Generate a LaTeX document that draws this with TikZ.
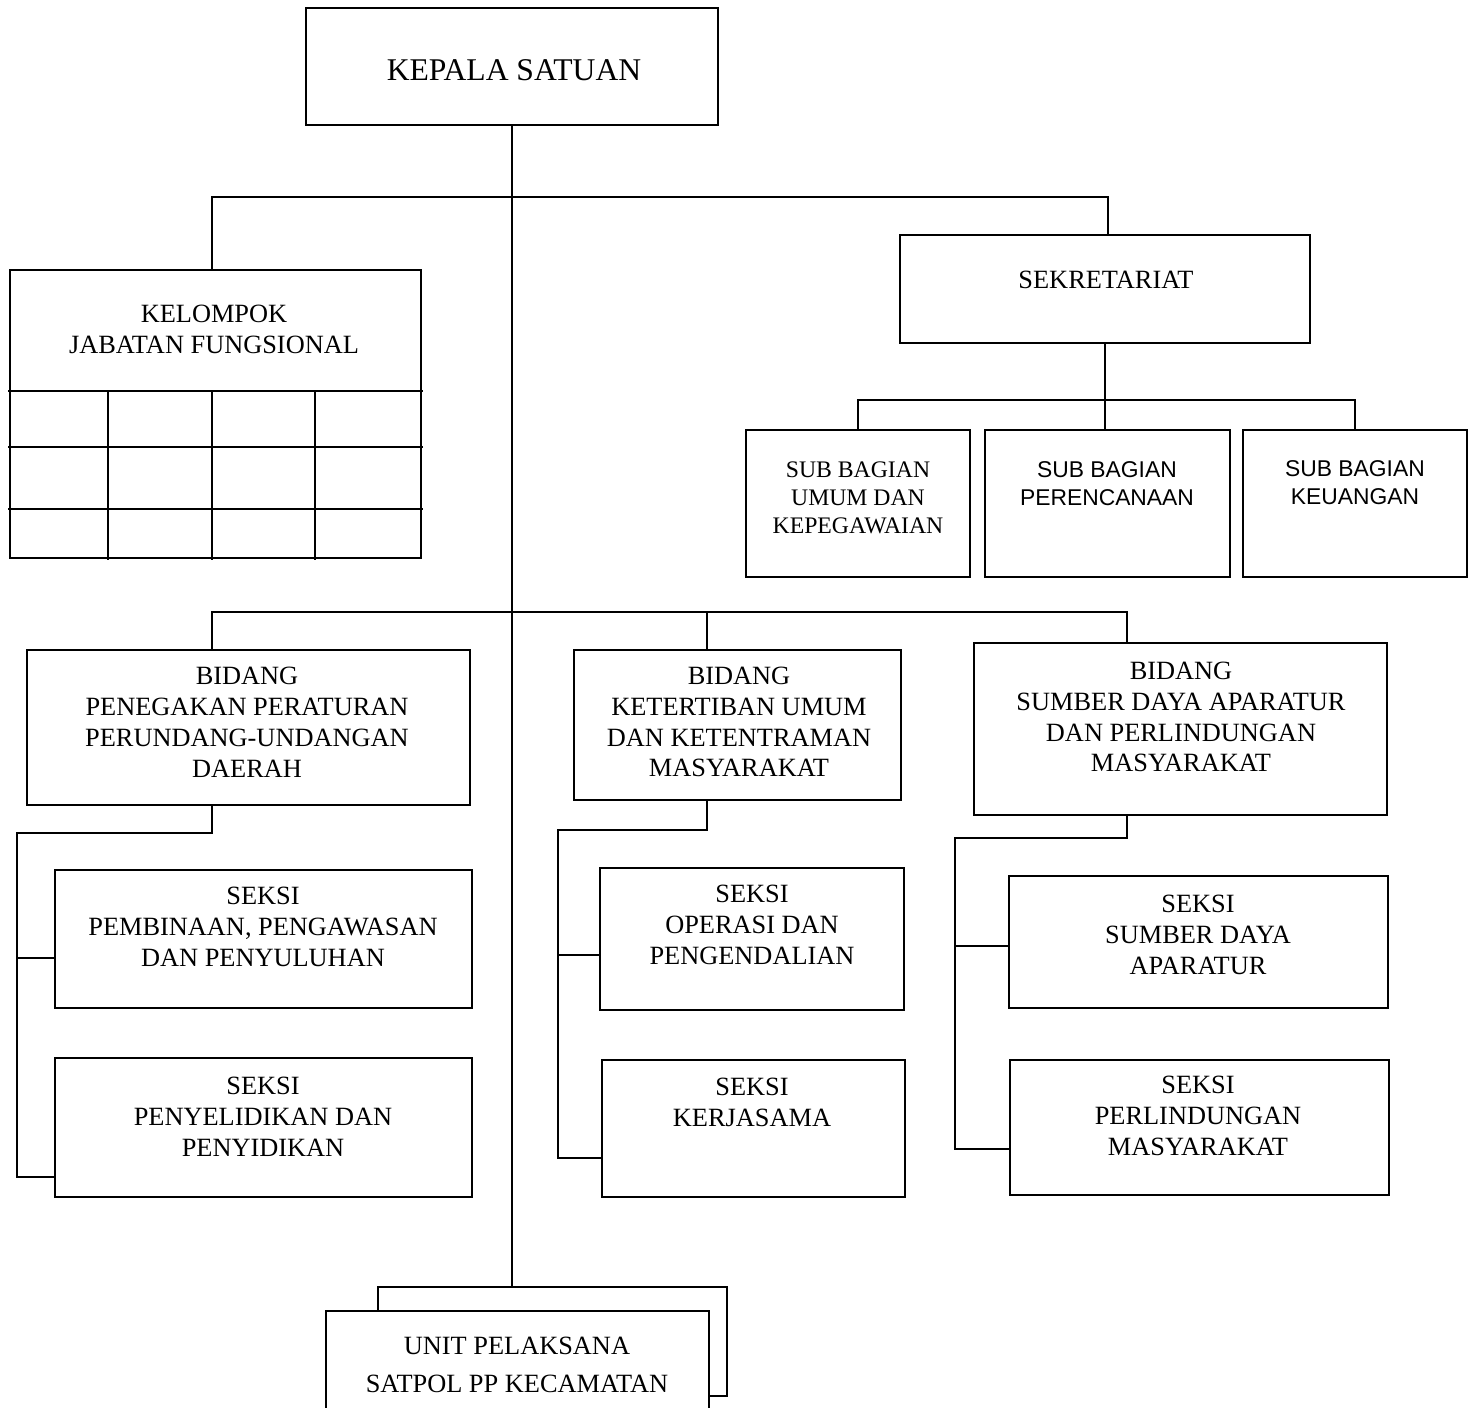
\documentclass[tikz,border=0pt]{standalone}
\usepackage{fontspec}
\setmainfont{Liberation Serif}
\newfontfamily\subsans{Liberation Sans}
\usetikzlibrary{positioning, fit}

\tikzset{
  box/.style={draw, inner sep=0pt, line width=1pt},
  txt/.style={align=center, inner sep=0pt, font=\fontsize{15}{17.6}\selectfont},
  subtxt/.style={align=center, inner sep=0pt, font=\subsans\fontsize{13}{15.9}\selectfont},
}

\begin{document}
\begin{tikzpicture}[x=0.02cm, y=-0.02cm, line width=1pt, line cap=rect]
      \useasboundingbox (0,0) rectangle (1476,1408);

      % Kotak
      \node[box, fit={(306,8) (718,125)}]     (kepala) {};
      \node[box, fit={(10,270) (421,558)}]    (kel) {};
      \node[box, fit={(900,235) (1310,343)}]  (sek) {};
      \node[box, fit={(746,430) (970,577)}]   (sb1) {};
      \node[box, fit={(985,430) (1230,577)}]  (sb2) {};
      \node[box, fit={(1243,430) (1467,577)}] (sb3) {};
      \node[box, fit={(27,650) (470,805)}]    (bd1) {};
      \node[box, fit={(574,650) (901,800)}]   (bd2) {};
      \node[box, fit={(974,643) (1387,815)}]  (bd3) {};
      \node[box, fit={(55,870) (472,1008)}]   (s1a) {};
      \node[box, fit={(55,1058) (472,1197)}]  (s1b) {};
      \node[box, fit={(600,868) (904,1010)}]  (s2a) {};
      \node[box, fit={(602,1060) (905,1197)}] (s2b) {};
      \node[box, fit={(1009,876) (1388,1008)}] (s3a) {};
      \node[box, fit={(1010,1060) (1389,1195)}] (s3b) {};
      \node[box, fit={(378,1287) (727,1396)}] (unitb) {};
      \node[box, fill=white, fit={(326,1311) (709,1430)}] (unitf) {};

      % Teks
      \node[txt, font=\fontsize{18}{21}\selectfont] (kepala-t) at (514,70) {KEPALA SATUAN};
      \node[txt] (kel-t) at (214,329) {KELOMPOK\\JABATAN FUNGSIONAL};
      \node[txt] (sek-t) at (1106,280) {SEKRETARIAT};
      \node[subtxt, font=\fontsize{13.5}{15.9}\selectfont] (sb1-t) at (858,498) {SUB BAGIAN\\UMUM DAN\\KEPEGAWAIAN};
      \node[subtxt] (sb2-t) at (1107,484) {SUB BAGIAN\\PERENCANAAN};
      \node[subtxt] (sb3-t) at (1355,483) {SUB BAGIAN\\KEUANGAN};
      \node[txt] (bd1-t) at (247,722) {BIDANG\\PENEGAKAN PERATURAN\\PERUNDANG-UNDANGAN\\DAERAH};
      \node[txt] (bd2-t) at (739,722) {BIDANG\\KETERTIBAN UMUM\\DAN KETENTRAMAN\\MASYARAKAT};
      \node[txt] (bd3-t) at (1181,717) {BIDANG\\SUMBER DAYA APARATUR\\DAN PERLINDUNGAN\\MASYARAKAT};
      \node[txt] (s1a-t) at (263,927) {SEKSI\\PEMBINAAN, PENGAWASAN\\DAN PENYULUHAN};
      \node[txt] (s1b-t) at (263,1117) {SEKSI\\PENYELIDIKAN DAN\\PENYIDIKAN};
      \node[txt] (s2a-t) at (752,925) {SEKSI\\OPERASI DAN\\PENGENDALIAN};
      \node[txt] (s2b-t) at (752,1102) {SEKSI\\KERJASAMA};
      \node[txt] (s3a-t) at (1198,935) {SEKSI\\SUMBER DAYA\\APARATUR};
      \node[txt] (s3b-t) at (1198,1116) {SEKSI\\PERLINDUNGAN\\MASYARAKAT};
      \node[txt, font=\fontsize{15}{22}\selectfont] (unit-t) at (517,1365) {UNIT PELAKSANA\\SATPOL PP KECAMATAN};

      % Tabel jabatan fungsional
      \foreach \gy in {391,447,509}
        \draw (kel.west |- 0,\gy) -- (kel.east |- 0,\gy);
      \foreach \gx in {108,212,315}
        \draw (\gx,391) -- (kel.south -| \gx,0);

      % Titik cabang
      \coordinate (t1) at (212,197);
      \coordinate (t2) at (1108,197);
      \coordinate (u1) at (857,400);
      \coordinate (u3) at (1353,400);
      \coordinate (d1) at (212,612);
      \coordinate (d2) at (707,612);
      \coordinate (d3) at (1127,612);
      \coordinate (r1) at (17,833);
      \coordinate (r1a) at (17,958);
      \coordinate (r1b) at (17,1177);
      \coordinate (r2) at (558,830);
      \coordinate (r2a) at (558,955);
      \coordinate (r2b) at (558,1158);
      \coordinate (r3) at (955,838);
      \coordinate (r3a) at (955,946);
      \coordinate (r3b) at (955,1149);

      % Garis
      \draw (kepala.south) -- (kepala.south |- unitb.north);
      \draw (t1 |- kel.north) -- (t1) -- (t2) -- (t2 |- sek.north);
      \draw (sek.south) -- (sek.south |- sb2.north);
      \draw (sb1.north) -- (sb1.north |- u1) -- (sb3.north |- u3) -- (sb3.north);
      \draw (d1 |- bd1.north) -- (d1) -- (d3) -- (d3 |- bd3.north);
      \draw (d2) -- (d2 |- bd2.north);

      \draw (d1 |- bd1.south) -- (d1 |- r1) -- (r1) -- (r1b) -- (r1b -| s1b.west);
      \draw (r1a) -- (r1a -| s1a.west);
      \draw (d2 |- bd2.south) -- (d2 |- r2) -- (r2) -- (r2b) -- (r2b -| s2b.west);
      \draw (r2a) -- (r2a -| s2a.west);
      \draw (d3 |- bd3.south) -- (d3 |- r3) -- (r3) -- (r3b) -- (r3b -| s3b.west);
      \draw (r3a) -- (r3a -| s3a.west);

    \end{tikzpicture}
\end{document}
